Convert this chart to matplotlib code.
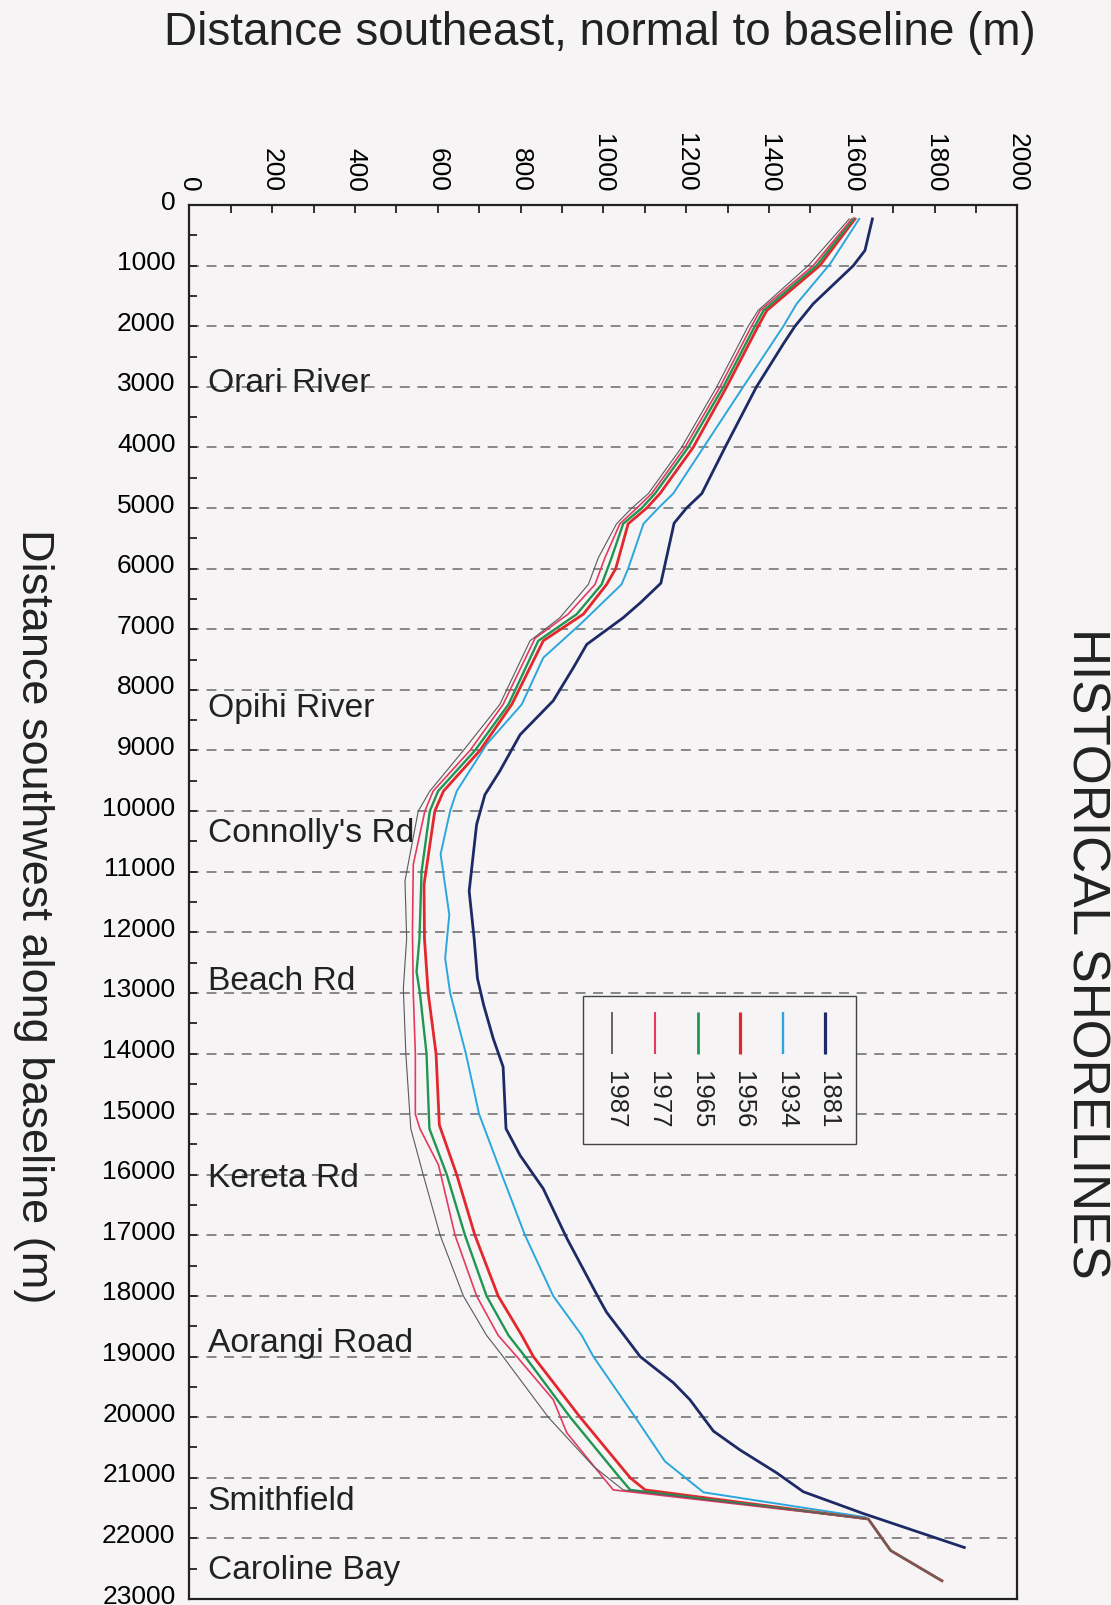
import matplotlib
matplotlib.use("Agg")
import matplotlib.pyplot as plt
from matplotlib.patches import Rectangle
from matplotlib.transforms import ScaledTranslation
from matplotlib.ticker import MultipleLocator

plt.rcParams['font.family'] = ['Liberation Sans', 'DejaVu Sans']

# ---------------- data (distance SW along baseline, distance SE normal to baseline) --------------
y_1881 = [230, 750, 1000, 1630, 2000, 2290, 3000, 4000, 4760, 5000, 5250, 6240, 6560, 6810, 7250,
          7630, 8180, 8740, 9340, 9730, 10220, 11320, 12100, 12760, 13200, 13750, 14220, 15240,
          15680, 16230, 17050, 18050, 18270, 18710, 19000, 19430, 19710, 20230, 20540, 20920,
          21230, 21590, 22150]
x_1881 = [1650, 1632, 1604, 1507, 1463, 1435, 1370, 1294, 1238, 1201, 1171, 1139, 1090, 1048, 960,
          928, 879, 799, 750, 714, 694, 676, 688, 696, 711, 734, 758, 765,
          799, 855, 912, 990, 1008, 1057, 1089, 1169, 1209, 1266, 1330, 1419,
          1483, 1628, 1872]

y_1934 = [230, 970, 1630, 2000, 3000, 4000, 4760, 5000, 5260, 6000, 6260, 6920, 7470, 8240, 8900,
          9670, 10000, 10710, 11710, 12430, 13000, 14000, 15000, 16000, 17000, 18000, 18650, 19000,
          20000, 20730, 21240, 21650]
x_1934 = [1618, 1548, 1467, 1435, 1338, 1242, 1169, 1133, 1097, 1060, 1044, 944, 855, 803, 718,
          646, 630, 607, 628, 618, 630, 668, 700, 755, 811, 879, 948, 976,
          1077, 1149, 1242, 1632]

y_1956 = [230, 1000, 1740, 2000, 3000, 4000, 4760, 5000, 5260, 6000, 6260, 6750, 7190, 8240, 9000,
          9670, 10000, 11210, 12100, 13000, 14000, 15180, 16000, 17000, 18000, 18650, 19000, 20000,
          21000, 21200, 21680, 22200, 22700]
x_1956 = [1608, 1523, 1395, 1374, 1298, 1217, 1137, 1105, 1060, 1030, 1008, 952, 855, 779, 702,
          614, 593, 567, 568, 577, 596, 604, 646, 690, 746, 803, 831, 944,
          1065, 1101, 1640, 1694, 1818]

y_1965 = [230, 1000, 1740, 2000, 3000, 4000, 4760, 5000, 5260, 5820, 6260, 6750, 7190, 8240, 9000,
          9670, 10000, 11000, 12100, 12650, 13000, 14000, 15240, 16000, 17000, 18000, 18650, 19000,
          20000, 21000, 21200, 21680, 22200, 22700]
x_1965 = [1604, 1515, 1387, 1366, 1290, 1205, 1125, 1093, 1048, 1020, 996, 936, 843, 771, 690,
          601, 581, 561, 556, 549, 557, 573, 580, 622, 666, 718, 771, 811,
          920, 1040, 1065, 1640, 1694, 1818]

y_1977 = [230, 1000, 1740, 2000, 3000, 4000, 4760, 5000, 5260, 5820, 6260, 6750, 7150, 8240, 9000,
          9670, 10000, 10880, 12000, 13000, 14000, 15000, 15240, 15840, 17000, 18000, 18650, 19000,
          19710, 20260, 21000, 21200, 21680, 22200, 22700]
x_1977 = [1600, 1507, 1379, 1358, 1282, 1197, 1117, 1081, 1040, 1004, 980, 915, 835, 758, 678,
          589, 569, 541, 539, 541, 546, 546, 557, 602, 642, 694, 746, 791,
          879, 912, 1000, 1024, 1640, 1694, 1818]

y_1987 = [230, 1000, 1740, 2000, 3000, 4000, 4760, 5000, 5260, 5820, 6260, 6810, 7190, 8240, 9000,
          9670, 10000, 11150, 12100, 12930, 14000, 15240, 16000, 17000, 18000, 18650, 18930, 20000,
          20810, 21200, 21680, 22200, 22700]
x_1987 = [1594, 1495, 1374, 1350, 1274, 1189, 1109, 1069, 1032, 988, 964, 895, 823, 750, 662,
          581, 553, 521, 525, 517, 523, 535, 565, 606, 662, 718, 750, 867,
          976, 1048, 1640, 1694, 1818]

years = ['1881', '1934', '1956', '1965', '1977', '1987']
colors = ['#1d2a66', '#2ba7de', '#e3282d', '#1f9651', '#e43a62', '#5a5a5a']
widths = [2.0, 1.4, 2.0, 1.7, 1.2, 0.8]

places = ['Orari River', 'Opihi River', "Connolly's Rd", 'Beach Rd', 'Kereta Rd',
          'Aorangi Road', 'Smithfield', 'Caroline Bay']
place_y = [2930, 8290, 10355, 12800, 16050, 18775, 21380, 22510]

# ---------------- figure ----------------
W, H = 1111, 1606
fig = plt.figure(figsize=(W / 100, H / 100), dpi=100, facecolor='#f6f4f5')
ax_l, ax_r, ax_t, ax_b = 189.3, 1017.3, 206, 1600
ax = fig.add_axes([ax_l / W, 1 - ax_b / H, (ax_r - ax_l) / W, (ax_b - ax_t) / H])
ax.set_facecolor('#f6f4f5')

series = [(x_1881, y_1881), (x_1934, y_1934), (x_1956, y_1956),
          (x_1965, y_1965), (x_1977, y_1977), (x_1987, y_1987)]
for (xs, ys), c, lw in zip(series, colors, widths):
    ax.plot(xs, ys, color=c, lw=lw, solid_joinstyle='miter', zorder=3)

ax.set_xlim(0, 2000)
ax.set_ylim(23000, 0)

ax.xaxis.tick_top()
ax.xaxis.set_major_locator(MultipleLocator(200))
ax.xaxis.set_minor_locator(MultipleLocator(100))
ax.yaxis.set_major_locator(MultipleLocator(1000))
ax.yaxis.set_minor_locator(MultipleLocator(500))
ax.tick_params(axis='x', which='both', direction='in', length=6, width=1.3, color='#222222',
               top=True, bottom=False, labeltop=True, labelbottom=False)
ax.tick_params(axis='x', which='major', labelsize=19, labelrotation=270, pad=10)
ax.tick_params(axis='y', which='both', direction='in', length=6, width=1.3, color='#222222',
               left=True, right=False)
ax.tick_params(axis='y', which='major', labelsize=19, pad=10)
for lab in ax.get_xticklabels():
    lab.set_va('bottom')
ylabs = ax.get_yticklabels()
for i, lab in enumerate(ylabs):
    dy = 0.06 if i < len(ylabs) - 1 else 0.11
    lab.set_transform(lab.get_transform() + ScaledTranslation(0, dy, fig.dpi_scale_trans))

ax.grid(axis='y', which='major', color='#6a6a6a', lw=1.1, linestyle=(0, (6.5, 5)), zorder=1)
ax.set_axisbelow(True)
for s in ax.spines.values():
    s.set_linewidth(1.6)
    s.set_color('#222222')

for name, yy in zip(places, place_y):
    ax.text(45, yy, name, fontsize=24.2, ha='left', va='center', color='#222222', zorder=4)

# ---------------- legend (rotated, like the original) ----------------
def fx(px):
    return (px - ax_l) / (ax_r - ax_l)

def fy(py):
    return 1 - (py - ax_t) / (ax_b - ax_t)

ax.add_patch(Rectangle((fx(583), fy(1145)), fx(856) - fx(583), fy(997) - fy(1145),
                       transform=ax.transAxes, fill=True, facecolor='#f6f4f5',
                       edgecolor='#444444', lw=1.0, zorder=5))
leg_px = [825, 782.7, 740, 697.7, 655, 611.7]
for px, yr, c, lw in zip(leg_px, years, colors, widths):
    ax.plot([fx(px), fx(px)], [fy(1013), fy(1055)], transform=ax.transAxes,
            color=c, lw=max(lw, 1.0) + 0.3, zorder=6, solid_capstyle='butt')
    ax.text(fx(px + 3), fy(1100), yr, transform=ax.transAxes, rotation=270,
            ha='center', va='center', fontsize=18.5, color='#222222', zorder=6)

# ---------------- titles ----------------
fig.text(599.5 / W, 1 - 33 / H, 'Distance southeast, normal to baseline (m)',
         fontsize=33, ha='center', va='center', color='#222222')
fig.text(33 / W, 1 - 916 / H, 'Distance southwest along baseline (m)',
         fontsize=32.5, rotation=270, ha='center', va='center', color='#222222')
fig.text(1086 / W, 1 - 953 / H, 'HISTORICAL SHORELINES',
         fontsize=37, rotation=270, ha='center', va='center', color='#222222')

fig.savefig('out.png', dpi=100, facecolor=fig.get_facecolor())
